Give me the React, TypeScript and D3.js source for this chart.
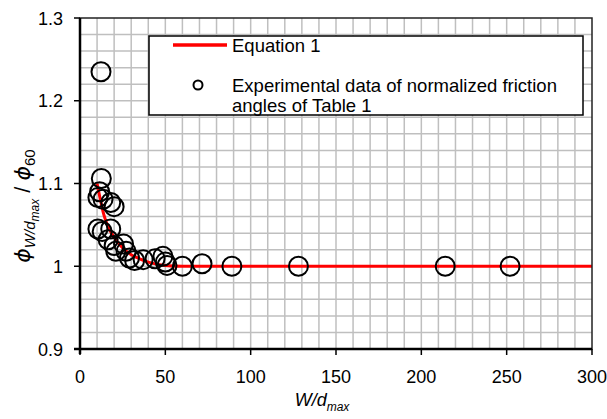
import React, { useEffect, useRef } from "react";
import * as d3 from "d3";

// experimental points: W/d_max and normalized friction angle
const wdRatio = [
  12.3, 12.5, 11.5, 10.5, 13.5, 18, 20, 10.5, 13, 18, 16.5, 20, 25.5, 27, 21,
  32, 29, 37, 44, 48.6, 50, 51, 60, 71.5, 89, 128, 214, 252,
];
const phiNorm = [
  1.235, 1.106, 1.09, 1.083, 1.081, 1.077, 1.072, 1.045, 1.042, 1.045, 1.032,
  1.025, 1.027, 1.018, 1.018, 1.007, 1.01, 1.008, 1.009, 1.012, 1.005, 1.001,
  1.0, 1.003, 1.0, 1.0, 1.0, 1.0,
];

// Equation 1 curve
const eqX = [10, 12, 14, 16, 20, 25, 30, 35, 40, 50, 60, 300];
const eqY = [1.1, 1.08, 1.062, 1.05, 1.035, 1.022, 1.014, 1.009, 1.005, 1.001, 1.0, 1.0];

const xTicks = [0, 50, 100, 150, 200, 250, 300];
const yTicks = [0.9, 1, 1.1, 1.2, 1.3];

const App = () => {
  const svgRef = useRef<SVGSVGElement>(null);

  useEffect(() => {
    const svg = d3.select(svgRef.current);
    svg.selectAll("*").remove();

    const left = 80, right = 592, top = 18, bottom = 349;
    const x = d3.scaleLinear().domain([0, 300]).range([left, right]);
    const y = d3.scaleLinear().domain([0.9, 1.3]).range([bottom, top]);
    const font = "Liberation Sans, Arial, sans-serif";

    svg.append("rect").attr("width", 607).attr("height", 419).attr("fill", "#fff");

    // grid
    const g = svg.append("g");
    g.selectAll(".vx")
      .data(d3.range(10, 300, 10))
      .join("line")
      .attr("x1", (d) => x(d))
      .attr("x2", (d) => x(d))
      .attr("y1", top)
      .attr("y2", bottom)
      .attr("stroke", "#bfbfbf")
      .attr("stroke-width", 1.5);
    g.selectAll(".hy")
      .data(d3.range(0.92, 1.3, 0.02))
      .join("line")
      .attr("x1", left)
      .attr("x2", right)
      .attr("y1", (d) => y(d))
      .attr("y2", (d) => y(d))
      .attr("stroke", "#bfbfbf")
      .attr("stroke-width", 1.5);

    // Equation 1
    const line = d3
      .line<number>()
      .x((d, i) => x(eqX[i]))
      .y((d) => y(d))
      .curve(d3.curveMonotoneX);
    svg.append("path")
      .attr("d", line(eqY))
      .attr("fill", "none")
      .attr("stroke", "#ff0000")
      .attr("stroke-width", 3);

    // data points
    svg.selectAll(".pt")
      .data(wdRatio)
      .join("circle")
      .attr("cx", (d) => x(d))
      .attr("cy", (d, i) => y(phiNorm[i]))
      .attr("r", 9.5)
      .attr("fill", "none")
      .attr("stroke", "#000")
      .attr("stroke-width", 2);

    // frame + axes
    svg.append("rect")
      .attr("x", left)
      .attr("y", top)
      .attr("width", right - left)
      .attr("height", bottom - top)
      .attr("fill", "none")
      .attr("stroke", "#222")
      .attr("stroke-width", 1.5);
    svg.append("line").attr("x1", left).attr("x2", left).attr("y1", top).attr("y2", bottom + 5)
      .attr("stroke", "#000").attr("stroke-width", 2.5);
    svg.append("line").attr("x1", left - 6).attr("x2", right).attr("y1", bottom).attr("y2", bottom)
      .attr("stroke", "#000").attr("stroke-width", 2.5);

    svg.selectAll(".xt")
      .data(xTicks)
      .join("line")
      .attr("x1", (d) => x(d))
      .attr("x2", (d) => x(d))
      .attr("y1", bottom)
      .attr("y2", bottom + 6)
      .attr("stroke", "#000")
      .attr("stroke-width", 1.5);
    svg.selectAll(".yt")
      .data(yTicks)
      .join("line")
      .attr("x1", left - 6)
      .attr("x2", left)
      .attr("y1", (d) => y(d))
      .attr("y2", (d) => y(d))
      .attr("stroke", "#000")
      .attr("stroke-width", 1.5);

    svg.selectAll(".xl")
      .data(xTicks)
      .join("text")
      .attr("x", (d) => x(d))
      .attr("y", 383)
      .attr("text-anchor", "middle")
      .style("font-family", font)
      .style("font-size", "18px")
      .text((d) => d);
    svg.selectAll(".yl")
      .data(yTicks)
      .join("text")
      .attr("x", left - 17)
      .attr("y", (d) => y(d) + 6.5)
      .attr("text-anchor", "end")
      .style("font-family", font)
      .style("font-size", "18px")
      .text((d) => (d === 1 ? "1" : d.toFixed(1)));

    // x title
    const xt = svg.append("text")
      .attr("x", 322)
      .attr("y", 406)
      .attr("text-anchor", "middle")
      .style("font-family", font)
      .style("font-size", "18px")
      .style("font-style", "italic");
    xt.append("tspan").text("W/d");
    xt.append("tspan").attr("dy", 5).style("font-size", "12px").text("max");

    // y title
    const yt = svg.append("text")
      .attr("transform", "translate(30,206) rotate(-90)")
      .attr("text-anchor", "middle")
      .style("font-family", font)
      .style("font-size", "22px");
    yt.append("tspan").style("font-family", "DejaVu Sans").style("font-style", "italic").text("ϕ");
    yt.append("tspan").attr("dy", 5).style("font-size", "15px").style("font-style", "italic").text("W/d");
    yt.append("tspan").attr("dy", 4).style("font-size", "12px").style("font-style", "italic").text("max");
    yt.append("tspan").attr("dy", -9).text(" / ");
    yt.append("tspan").style("font-family", "DejaVu Sans").style("font-style", "italic").text("ϕ");
    yt.append("tspan").attr("dy", 5).style("font-size", "15px").text("60");

    // legend
    const lg = svg.append("g");
    lg.append("rect")
      .attr("x", 149)
      .attr("y", 36)
      .attr("width", 434)
      .attr("height", 79)
      .attr("fill", "#fff")
      .attr("stroke", "#000")
      .attr("stroke-width", 1.5);
    lg.append("line").attr("x1", 173).attr("x2", 227).attr("y1", 45).attr("y2", 45)
      .attr("stroke", "#ff0000").attr("stroke-width", 3.5);
    lg.append("circle").attr("cx", 198).attr("cy", 85).attr("r", 4.5)
      .attr("fill", "none").attr("stroke", "#000").attr("stroke-width", 2);
    const legendText = [
      ["Equation 1", 52],
      ["Experimental data of normalized friction", 92],
      ["angles of Table 1", 112],
    ];
    lg.selectAll(".lt")
      .data(legendText)
      .join("text")
      .attr("x", 232)
      .attr("y", (d) => d[1] as number)
      .style("font-family", font)
      .style("font-size", "18.5px")
      .text((d) => d[0] as string);
  }, []);

  return (
    <svg
      ref={svgRef}
      width={607}
      height={419}
      style={{ position: "absolute", left: 0, top: 0 }}
    />
  );
};

export default App;
